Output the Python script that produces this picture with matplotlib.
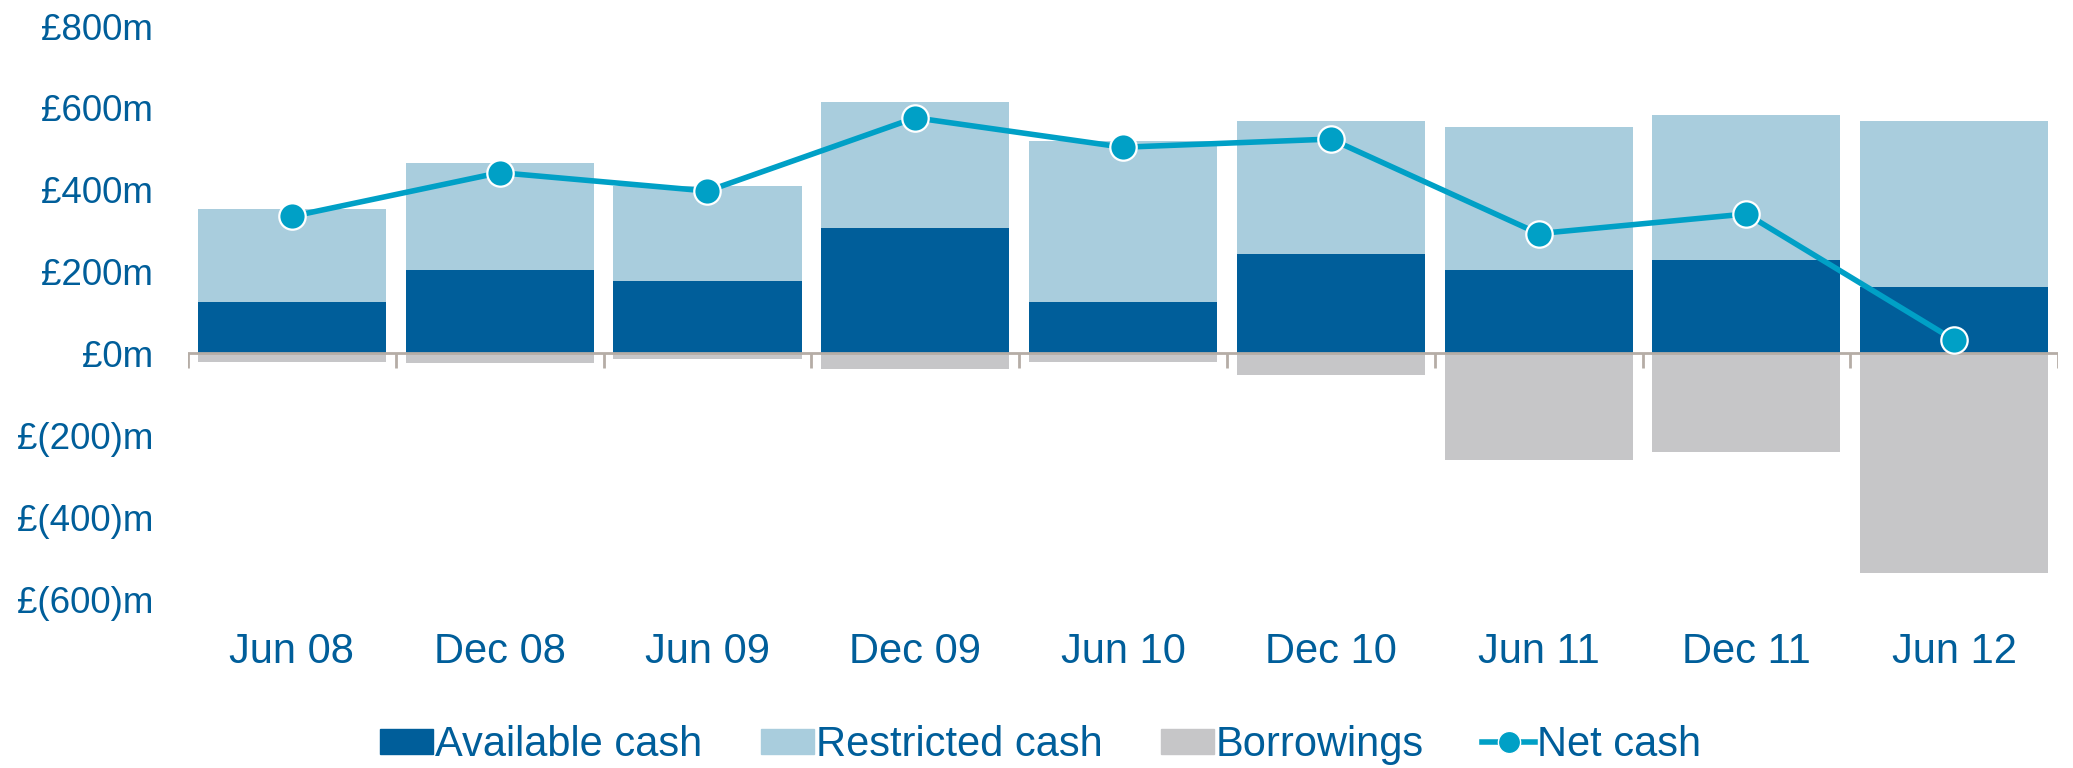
import numpy as np
import matplotlib
matplotlib.use("Agg")
import matplotlib.pyplot as plt
from matplotlib.lines import Line2D
from matplotlib.patches import Patch

# values (GBP millions)
periods = ["Jun 08", "Dec 08", "Jun 09", "Dec 09", "Jun 10",
           "Dec 10", "Jun 11", "Dec 11", "Jun 12"]
available = [127, 205, 176, 306, 127, 244, 205, 228, 163]
restricted = [227, 260, 234, 309, 393, 325, 348, 354, 406]
borrowings = [-20, -23, -13, -39, -20, -52, -260, -241, -537]
net_cash = [335, 442, 397, 576, 504, 524, 293, 341, 33]
yticks = [800, 600, 400, 200, 0, -200, -400, -600]

C_AVAIL = "#005e9a"
C_RESTR = "#a9cddd"
C_BORR = "#c6c6c8"
C_NET = "#00a0c6"
C_TEXT = "#005e9a"
C_AXIS = "#b5ada6"


def money(v):
    return f"£{v}m" if v >= 0 else f"£({-v})m"


plt.rcParams["font.family"] = ["Liberation Sans", "DejaVu Sans"]

fig = plt.figure(figsize=(20.73, 7.68), dpi=100)
ax = fig.add_axes([0.0907, 0.220, 0.9021, 0.746])

x = np.arange(len(periods))
w = 0.905
ax.bar(x, available, w, color=C_AVAIL, zorder=2)
ax.bar(x, restricted, w, bottom=available, color=C_RESTR, zorder=2)
ax.bar(x, borrowings, w, color=C_BORR, zorder=2)
ax.plot(x, net_cash, color=C_NET, lw=4, marker="o", ms=19,
        mfc=C_NET, mec="white", mew=1.6, zorder=4)

# zero line with category-boundary ticks hanging below it
ax.axhline(0, color=C_AXIS, lw=2, zorder=3)
ax.vlines(np.arange(-0.5, len(periods)), -36, 0, color=C_AXIS, lw=2, zorder=3)

ax.set_xlim(-0.5, len(periods) - 0.5)
ax.set_ylim(-600, 800)
ax.set_yticks(yticks)
ax.set_yticklabels([money(v) for v in yticks])
ax.set_xticks(x)
ax.set_xticklabels(periods)
ax.tick_params(axis="y", length=0, pad=25, labelsize=26.5, labelcolor=C_TEXT)
ax.tick_params(axis="x", length=0, pad=24, labelsize=30, labelcolor=C_TEXT)
for s in ax.spines.values():
    s.set_visible(False)

handles = [
    Patch(color=C_AVAIL, label="Available cash"),
    Patch(color=C_RESTR, label="Restricted cash"),
    Patch(color=C_BORR, label="Borrowings"),
    Line2D([], [], color=C_NET, lw=4, marker="o", ms=16, mfc=C_NET,
           mec="white", mew=1, label="Net cash"),
]
leg = fig.legend(handles=handles, loc="center", bbox_to_anchor=(0.502, 0.03),
                 ncol=4, frameon=False, fontsize=30, handlelength=1.27,
                 handleheight=0.55, handletextpad=0.05, columnspacing=1.4)
for t in leg.get_texts():
    t.set_color(C_TEXT)

fig.savefig("out.png", dpi=100)
